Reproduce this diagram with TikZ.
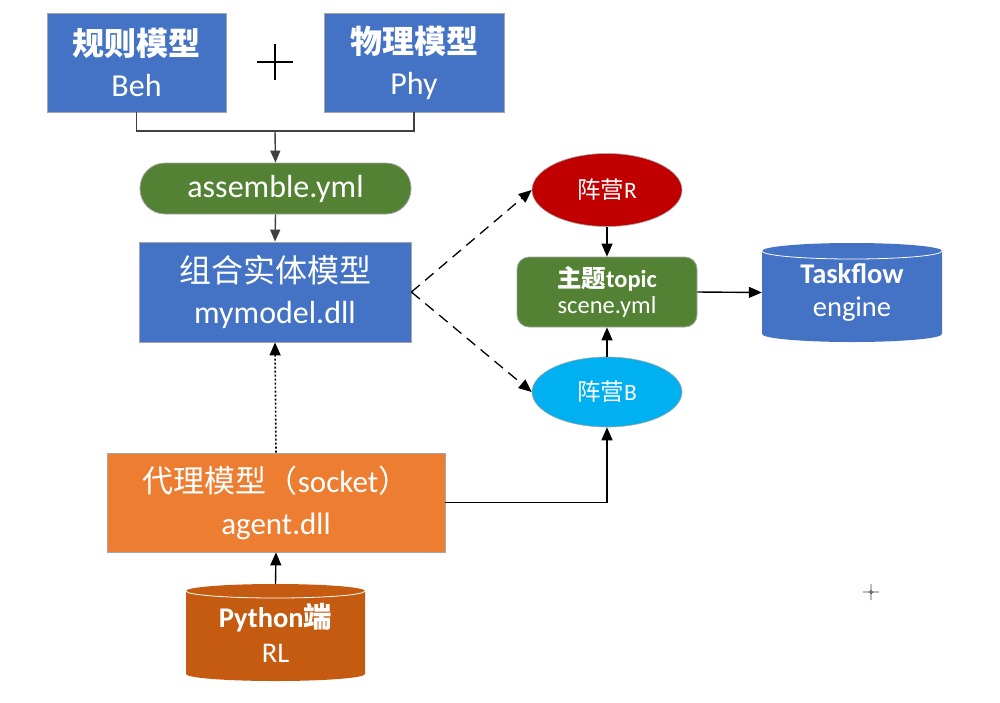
\documentclass[tikz,border=0pt]{standalone}
\usepackage{fontspec}
\setmainfont{Carlito}
\newfontfamily\cjk{Noto Sans CJK SC}
\usetikzlibrary{shapes.geometric,arrows.meta}
\definecolor{cblue}{HTML}{4472C4}
\definecolor{cgreen}{HTML}{548235}
\definecolor{cred}{HTML}{C00000}
\definecolor{ccyan}{HTML}{00B0F0}
\definecolor{corange}{HTML}{ED7D31}
\definecolor{cdorange}{HTML}{C55A11}
\definecolor{cline}{HTML}{404040}
\definecolor{cborder}{HTML}{A6A6A6}
\newcommand\mycyl[5]{% cx, top, bottom, rx, ry ; fill colour set by scope
  \fill (#1-#4,#2+#5) -- (#1-#4,#3-#5)
    arc[start angle=180,end angle=360,x radius=#4pt,y radius=#5pt]
    -- (#1+#4,#2+#5)
    arc[start angle=0,end angle=180,x radius=#4pt,y radius=#5pt] -- cycle;
  \draw[white, line width=0.8pt] (#1-#4,#2+#5)
    arc[start angle=180,end angle=360,x radius=#4pt,y radius=#5pt];
}
\begin{document}
\begin{tikzpicture}[x=1pt,y=-1pt,
  box/.style={rectangle, draw=cborder, line width=0.8pt, text=white, inner sep=0pt, align=center},
  oval/.style={ellipse, draw=cborder, line width=0.6pt, text=white, inner sep=0pt, align=center},
  fsbig/.style={font=\fontsize{32}{41}\selectfont},
  conn/.style={line width=1.4pt, draw=black, -{Triangle[length=13pt,width=11pt]}},
  plainline/.style={line width=1.4pt, draw=cline},
  dashline/.style={line width=1.3pt, dash pattern=on 11pt off 7pt},
  dotline/.style={line width=1.6pt, dash pattern=on 2pt off 2pt},
]
\useasboundingbox (0,0) rectangle (1000,702);
\fill[white] (0,0) rectangle (1000,702);

% top boxes
\node[box, fill=cblue, minimum width=179pt, minimum height=99pt, fsbig] (beh) at (136.5,62.5)
  {{\cjk\bfseries 规则模型}\\Beh};
\node[box, fill=cblue, minimum width=180pt, minimum height=99pt, fsbig] (phy) at (414,62.5)
  {{\cjk\bfseries 物理模型}\\Phy};
% plus sign
\draw[black, line width=2.5pt] (257,62) -- (293,62) (275,44) -- (275,80);

\coordinate (j) at (275,131);

\node[box, fill=cgreen, rounded corners=25pt, minimum width=271pt, minimum height=51pt, fsbig] (asm) at (275.5,188.5)
  {assemble.yml};
\node[box, fill=cblue, minimum width=272pt, minimum height=100pt, fsbig] (comb) at (275,292)
  {{\cjk 组合实体模型}\\mymodel.dll};

% camps and topic
\node[oval, fill=cred, minimum width=150pt, minimum height=73pt, font=\fontsize{23.5}{27}\selectfont] (R) at (607,190)
  {{\cjk 阵营}R};
\node[box, fill=cgreen, rounded corners=12pt, minimum width=180pt, minimum height=70pt, font=\fontsize{24.5}{25.5}\selectfont] (topic) at (607,292)
  {{\cjk\bfseries 主题}\textbf{topic}\\scene.yml};
\node[oval, fill=ccyan, minimum width=150pt, minimum height=70pt, font=\fontsize{23.5}{27}\selectfont] (B) at (607,392)
  {{\cjk 阵营}B};

% Taskflow cylinder
\begin{scope}[fill=cblue]
\mycyl{852}{243}{342}{90}{8}
\end{scope}
\node[rectangle, inner sep=0pt, minimum width=180pt, minimum height=99pt, text=white, align=center,
  font=\fontsize{28.5}{33}\selectfont] (tf) at (852,292.5) {\textbf{Taskflow}\\engine};

% agent
\node[box, fill=corange, minimum width=338pt, minimum height=99pt, font=\fontsize{31}{42}\selectfont] (agent) at (276,502.5)
  {{\cjk 代理模型（}socket{\cjk ）}\\agent.dll};

% python cylinder
\begin{scope}[fill=cdorange]
\mycyl{275.5}{584}{681}{89.5}{7}
\end{scope}
\node[rectangle, inner sep=0pt, minimum width=179pt, minimum height=97pt, text=white, align=center,
  font=\fontsize{28.5}{35}\selectfont] (py) at (275.5,632.5) {\textbf{Python}{\cjk\bfseries 端}\\RL};

% connectors
\draw[plainline] (beh.south) |- (j) -| (phy.south);
\draw[conn, draw=cline, -{Triangle[length=12pt,width=10pt,fill=cline]}] (j) -- (asm.north);
\draw[conn, draw=cline, -{Triangle[length=12pt,width=10pt,fill=cline]}] (asm.south) -- (comb.north);
\draw[conn, dashline] (comb.east) -- (R.west);
\draw[conn, dashline] (comb.east) -- (B.west);
\draw[conn] (R.south) -- (topic.north);
\draw[conn] (B.north) -- (topic.south);
\draw[conn] (topic.east) -- (tf.west);
\draw[conn] (agent.east) -| (B.south);
\draw[conn, dotline] (agent.north) -- (comb.south);
\draw[conn] (py.north) -- (agent.south);

% small crosshair mark
\draw[cline, line width=0.9pt] (871,592) circle[radius=1.6pt]
  (871,584) -- (871,590) (871,594) -- (871,600)
  (863,592) -- (869,592) (873,592) -- (879,592);
\end{tikzpicture}
\end{document}
